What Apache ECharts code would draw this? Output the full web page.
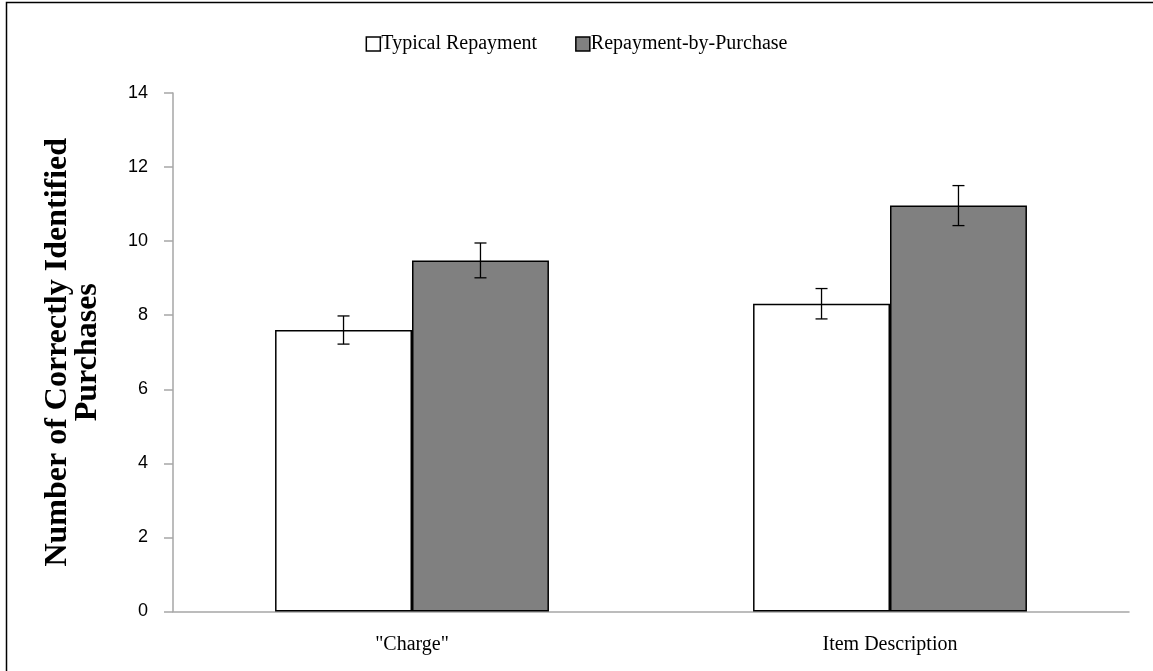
<!DOCTYPE html>
<html><head><meta charset="utf-8">
<style>html,body{margin:0;padding:0;background:#fff}#c{width:1153px;height:671px}</style>
<script src="https://cdn.jsdelivr.net/npm/echarts@6/dist/echarts.min.js"></script>
</head><body><div id="c"></div>
<script>
const categories = ['"Charge"', 'Item Description'];
const seriesNames = ['Typical Repayment', 'Repayment-by-Purchase'];
const typical = [7.6, 8.31];
const typicalErr = [0.38, 0.41];
const rbp = [9.48, 10.96];
const rbpErr = [0.47, 0.54];
const yTicks = [0, 2, 4, 6, 8, 10, 12, 14];

const chart = echarts.init(document.getElementById('c'));
const gapPct = 0.427;
function errSeries(vals, errs, idx) {
  return {
    type: 'custom', silent: true, z: 10,
    data: vals.map((v, i) => [i, v, errs[i]]),
    renderItem: function (params, api) {
      const i = api.value(0), v = api.value(1), e = api.value(2);
      const band = api.size([1, 0])[0];
      const bw = band * (1 - gapPct) / 2;
      const c = api.coord([i, v]);
      const x = c[0] + (idx === 0 ? -bw / 2 : bw / 2);
      const top = api.coord([i, v + e])[1];
      const bot = api.coord([i, v - e])[1];
      const cap = 6;
      const st = { stroke: '#000', lineWidth: 1.3 };
      return { type: 'group', children: [
        { type: 'line', shape: { x1: x, y1: top, x2: x, y2: bot }, style: st },
        { type: 'line', shape: { x1: x - cap, y1: top, x2: x + cap, y2: top }, style: st },
        { type: 'line', shape: { x1: x - cap, y1: bot, x2: x + cap, y2: bot }, style: st }
      ]};
    }
  };
}
chart.setOption({
  animation: false,
  backgroundColor: '#fff',
  graphic: [{ type: 'rect', shape: { x: 6.5, y: 2.5, width: 1200, height: 700 }, style: { fill: 'none', stroke: '#000', lineWidth: 1.5 }, silent: true }],
  legend: {
    data: seriesNames, top: 29, left: 'center', itemGap: 38, itemWidth: 14, itemHeight: 14,
    icon: 'rect', itemStyle: { borderColor: '#000', borderWidth: 1.5 },
    textStyle: { fontFamily: 'Liberation Serif', fontSize: 20, color: '#000', padding: [0,0,0,-4] }
  },
  grid: { left: 173, right: 24, top: 93, bottom: 59.5, containLabel: false },
  xAxis: {
    type: 'category', data: categories,
    axisLine: { lineStyle: { color: '#a6a6a6', width: 1.5 } },
    axisTick: { show: false },
    axisLabel: { fontFamily: 'Liberation Serif', fontSize: 20, color: '#000', margin: 23 }
  },
  yAxis: {
    type: 'value', min: 0, max: 14, interval: 2,
    name: 'Number of Correctly Identified\nPurchases', nameLocation: 'middle', nameGap: 70,
    nameTextStyle: { fontFamily: 'Liberation Serif', fontSize: 32, fontWeight: 'bold', color: '#000', lineHeight: 30 },
    axisLine: { show: true, lineStyle: { color: '#a6a6a6', width: 1.5 } },
    axisTick: { show: true, length: 9, lineStyle: { color: '#a6a6a6', width: 1.5 } },
    splitLine: { show: false },
    axisLabel: { fontFamily: 'Liberation Sans', fontSize: 18, color: '#000', margin: 25,
      formatter: v => yTicks.includes(v) ? String(v) : '' }
  },
  series: [
    { name: seriesNames[0], type: 'bar', data: typical, barGap: '0%', barCategoryGap: (gapPct*100)+'%',
      itemStyle: { color: '#ffffff', borderColor: '#000', borderWidth: 1.5 } },
    { name: seriesNames[1], type: 'bar', data: rbp, barGap: '0%', barCategoryGap: (gapPct*100)+'%',
      itemStyle: { color: '#808080', borderColor: '#000', borderWidth: 1.5 } },
    errSeries(typical, typicalErr, 0),
    errSeries(rbp, rbpErr, 1)
  ]
});
</script></body></html>
